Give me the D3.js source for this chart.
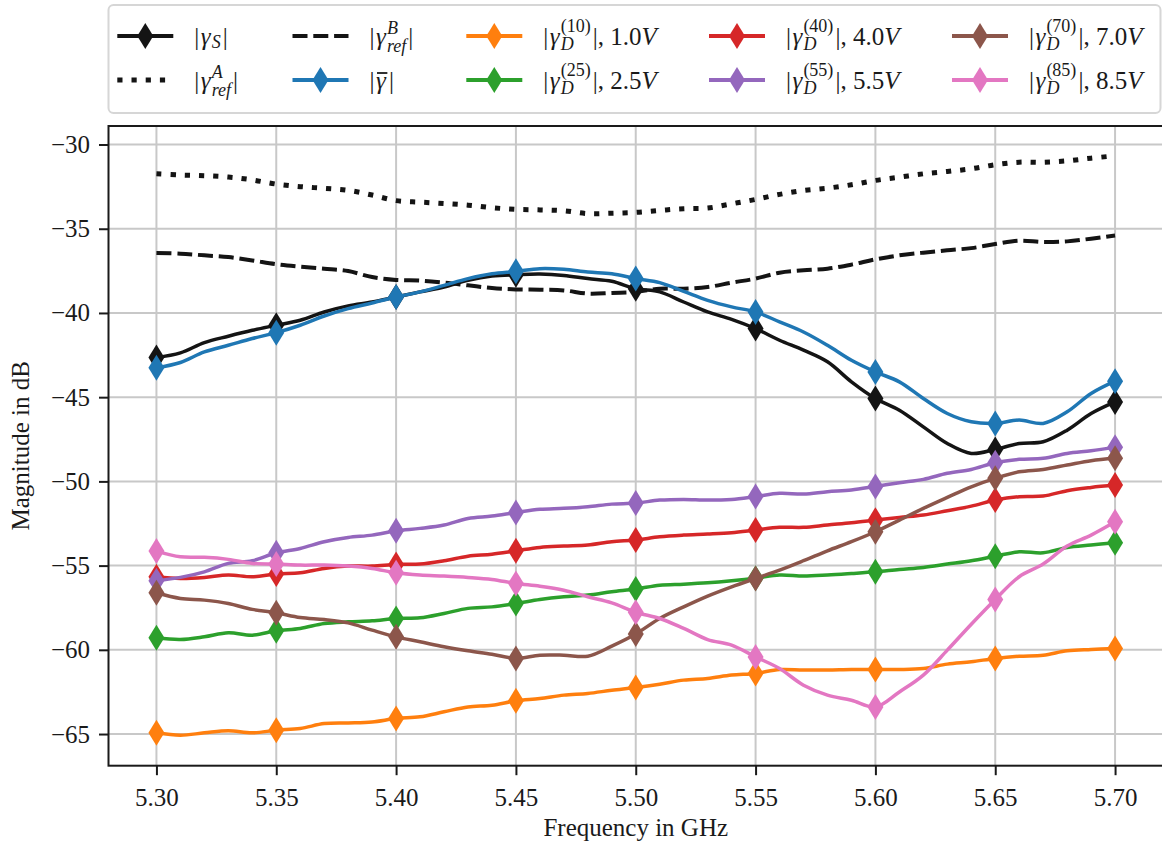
<!DOCTYPE html>
<html>
<head>
<meta charset="utf-8">
<script src="https://cdn.jsdelivr.net/npm/d3@7"></script>
<style>
  body { margin: 0; background: #fff; }
  svg { display: block; }
  text { font-family: "Liberation Serif", "Times New Roman", serif; fill: #1a1a1a; }
</style>
</head>
<body>
<svg id="chart" width="1162" height="843"></svg>
<script>
// Frequency sweep (GHz)
const freqGHz = [5.30,5.31,5.32,5.33,5.34,5.35,5.36,5.37,5.38,5.39,5.40,5.41,5.42,5.43,5.44,5.45,5.46,5.47,5.48,5.49,5.50,
                 5.51,5.52,5.53,5.54,5.55,5.56,5.57,5.58,5.59,5.60,5.61,5.62,5.63,5.64,5.65,5.66,5.67,5.68,5.69,5.70];

// Magnitudes in dB
const gammaS   = [-42.65,-42.37,-41.76,-41.38,-41.03,-40.73,-40.43,-39.94,-39.58,-39.35,-39.05,-38.75,-38.46,-38.06,-37.81,-37.73,-37.69,-37.77,-37.96,-38.12,-38.56,
                  -38.75,-39.35,-39.94,-40.38,-40.93,-41.62,-42.21,-42.9,-44.09,-45.08,-45.77,-46.76,-47.75,-48.34,-48.1,-47.75,-47.65,-46.96,-45.97,-45.28];
const gammaRefA = [-31.74,-31.81,-31.85,-31.93,-32.1,-32.35,-32.5,-32.6,-32.72,-33.0,-33.33,-33.42,-33.5,-33.6,-33.75,-33.85,-33.88,-33.93,-34.1,-34.08,-34.03,
                  -33.91,-33.81,-33.77,-33.52,-33.26,-32.96,-32.73,-32.59,-32.39,-32.13,-31.94,-31.74,-31.6,-31.44,-31.2,-31.05,-31.05,-30.97,-30.81,-30.67];
const gammaRefB = [-36.44,-36.48,-36.58,-36.68,-36.88,-37.1,-37.25,-37.37,-37.51,-37.87,-38.04,-38.08,-38.2,-38.36,-38.52,-38.6,-38.62,-38.66,-38.85,-38.81,-38.75,
                  -38.56,-38.56,-38.46,-38.2,-37.96,-37.61,-37.47,-37.37,-37.13,-36.82,-36.58,-36.42,-36.28,-36.15,-35.91,-35.71,-35.79,-35.75,-35.59,-35.4];
const gammaBar = [-43.26,-42.94,-42.31,-41.92,-41.52,-41.17,-40.73,-40.18,-39.74,-39.41,-39.05,-38.75,-38.36,-37.96,-37.67,-37.53,-37.37,-37.41,-37.57,-37.67,-37.96,
                  -38.2,-38.72,-39.25,-39.64,-39.94,-40.53,-41.13,-41.92,-42.81,-43.5,-44.09,-45.08,-45.97,-46.46,-46.56,-46.36,-46.56,-45.87,-44.78,-44.05];
const gammaD10 = [-64.93,-65.07,-64.93,-64.81,-64.93,-64.77,-64.67,-64.38,-64.34,-64.28,-64.08,-63.98,-63.68,-63.39,-63.29,-63.03,-62.89,-62.69,-62.59,-62.4,-62.24,
                  -62.04,-61.8,-61.7,-61.5,-61.4,-61.17,-61.2,-61.2,-61.17,-61.17,-61.17,-61.11,-60.85,-60.71,-60.51,-60.38,-60.32,-60.06,-59.98,-59.92];
const gammaD25 = [-59.29,-59.39,-59.23,-58.99,-59.13,-58.87,-58.73,-58.44,-58.34,-58.28,-58.14,-58.1,-57.84,-57.54,-57.45,-57.25,-57.01,-56.85,-56.75,-56.55,-56.39,
                  -56.16,-56.1,-56.02,-55.9,-55.75,-55.56,-55.62,-55.56,-55.47,-55.37,-55.23,-55.11,-54.91,-54.71,-54.44,-54.18,-54.24,-53.92,-53.78,-53.64];
const gammaD40 = [-55.66,-55.76,-55.7,-55.56,-55.66,-55.5,-55.43,-55.17,-55.03,-55.03,-54.93,-54.91,-54.71,-54.44,-54.32,-54.12,-53.92,-53.84,-53.78,-53.58,-53.48,
                  -53.29,-53.19,-53.13,-53.05,-52.89,-52.73,-52.73,-52.59,-52.46,-52.3,-52.14,-52.0,-51.74,-51.47,-51.11,-50.91,-50.87,-50.55,-50.36,-50.22];
const gammaD55 = [-55.9,-55.7,-55.37,-54.87,-54.71,-54.24,-53.98,-53.58,-53.33,-53.19,-52.93,-52.79,-52.59,-52.2,-52.06,-51.85,-51.66,-51.6,-51.5,-51.35,-51.29,
                  -51.11,-51.07,-51.11,-51.07,-50.9,-50.71,-50.75,-50.61,-50.51,-50.3,-50.08,-49.88,-49.52,-49.29,-48.89,-48.69,-48.63,-48.34,-48.18,-47.98];
const gammaD70 = [-56.61,-56.95,-57.05,-57.25,-57.6,-57.8,-58.08,-58.2,-58.4,-58.83,-59.23,-59.52,-59.82,-60.06,-60.26,-60.51,-60.32,-60.32,-60.38,-59.78,-59.06,
                  -58.14,-57.45,-56.81,-56.26,-55.76,-55.27,-54.71,-54.12,-53.58,-52.99,-52.3,-51.6,-50.95,-50.32,-49.82,-49.43,-49.29,-49.03,-48.77,-48.63];
const gammaD85 = [-54.14,-54.48,-54.51,-54.63,-54.87,-54.91,-54.97,-54.97,-55.03,-55.17,-55.43,-55.56,-55.62,-55.7,-55.82,-56.06,-56.22,-56.46,-56.85,-57.21,-57.77,
                  -58.14,-58.73,-59.39,-59.72,-60.42,-61.11,-62.1,-62.69,-62.99,-63.39,-62.5,-61.5,-60.02,-58.48,-57.01,-55.66,-54.91,-53.84,-53.19,-52.4];

// Drive states for the gamma_D curves
const stateIndex = ["(10)", "(25)", "(40)", "(55)", "(70)", "(85)"];
const stateVoltage = ["1.0", "2.5", "4.0", "5.5", "7.0", "8.5"];

// Axis ticks and titles
const xTicks = [5.30, 5.35, 5.40, 5.45, 5.50, 5.55, 5.60, 5.65, 5.70];
const xTickLabels = ["5.30", "5.35", "5.40", "5.45", "5.50", "5.55", "5.60", "5.65", "5.70"];
const yTicks = [-65, -60, -55, -50, -45, -40, -35, -30];
const yTickLabels = ["\u221265", "\u221260", "\u221255", "\u221250", "\u221245", "\u221240", "\u221235", "\u221230"];
const xTitle = "Frequency in GHz";
const yTitle = "Magnitude in dB";

// Series definitions (draw order = legend order, column-major)
const series = [
  { values: gammaS,    color: "#141414", dash: null,       width: 3.5, markers: true,  label: { sub: "S" } },
  { values: gammaRefA, color: "#141414", dash: "5.2,9",    width: 5,   markers: false, label: { sup: "A", supItalic: true, sub: "ref" } },
  { values: gammaRefB, color: "#141414", dash: "15,5.8",   width: 4,   markers: false, label: { sup: "B", supItalic: true, sub: "ref" } },
  { values: gammaBar,  color: "#1f77b4", dash: null,       width: 3.5, markers: true,  label: { bar: true } },
  { values: gammaD10,  color: "#ff7f0e", dash: null,       width: 3.5, markers: true,  label: { sup: stateIndex[0], sub: "D", volt: stateVoltage[0] } },
  { values: gammaD25,  color: "#2ca02c", dash: null,       width: 3.5, markers: true,  label: { sup: stateIndex[1], sub: "D", volt: stateVoltage[1] } },
  { values: gammaD40,  color: "#d62728", dash: null,       width: 3.5, markers: true,  label: { sup: stateIndex[2], sub: "D", volt: stateVoltage[2] } },
  { values: gammaD55,  color: "#9467bd", dash: null,       width: 3.5, markers: true,  label: { sup: stateIndex[3], sub: "D", volt: stateVoltage[3] } },
  { values: gammaD70,  color: "#8c564b", dash: null,       width: 3.5, markers: true,  label: { sup: stateIndex[4], sub: "D", volt: stateVoltage[4] } },
  { values: gammaD85,  color: "#e377c2", dash: null,       width: 3.5, markers: true,  label: { sup: stateIndex[5], sub: "D", volt: stateVoltage[5] } }
];

const svg = d3.select("#chart");
const plot = { left: 108.5, right: 1163, top: 126, bottom: 765.7 };

const x = d3.scaleLinear().domain([5.28, 5.72]).range([plot.left, plot.right]);
const y = d3.scaleLinear().domain([-66.88, -28.9]).range([plot.bottom, plot.top]);

svg.append("defs").append("clipPath").attr("id", "plotClip")
  .append("rect").attr("x", plot.left).attr("y", plot.top)
  .attr("width", plot.right - plot.left).attr("height", plot.bottom - plot.top);

// Grid
const grid = svg.append("g").attr("stroke", "#c8c8c8").attr("stroke-width", 2);
grid.selectAll(".gx").data(xTicks).join("line")
  .attr("x1", d => x(d)).attr("x2", d => x(d)).attr("y1", plot.top).attr("y2", plot.bottom);
grid.selectAll(".gy").data(yTicks).join("line")
  .attr("y1", d => y(d)).attr("y2", d => y(d)).attr("x1", plot.left).attr("x2", plot.right);

// Thin diamond marker
const diamond = (w, h) => `M0,${-h / 2}L${w / 2},0L0,${h / 2}L${-w / 2},0Z`;
const markerPath = diamond(16, 26);

// Lines and markers (a marker every 0.05 GHz)
const lines = svg.append("g").attr("clip-path", "url(#plotClip)");
const line = d3.line()
  .x((d, i) => x(freqGHz[i]))
  .y(d => y(d))
  .curve(d3.curveCatmullRom.alpha(0.5));
series.forEach(s => {
  const g = lines.append("g");
  g.append("path").datum(s.values)
    .attr("d", line)
    .attr("fill", "none")
    .attr("stroke", s.color)
    .attr("stroke-width", s.width)
    .attr("stroke-linejoin", "round")
    .attr("stroke-linecap", s.dash ? "butt" : "round")
    .attr("stroke-dasharray", s.dash);
  if (s.markers) {
    const pts = s.values.map((v, i) => [freqGHz[i], v]).filter((p, i) => i % 5 === 0);
    g.selectAll("path.m").data(pts).join("path")
      .attr("class", "m")
      .attr("d", markerPath)
      .attr("transform", p => `translate(${x(p[0])},${y(p[1])})`)
      .attr("fill", s.color);
  }
});

// Axes
const fontSize = 25;
const xAxis = d3.axisBottom(x).tickValues(xTicks).tickFormat((d, i) => xTickLabels[i]).tickSize(9.5).tickPadding(13);
const yAxis = d3.axisLeft(y).tickValues(yTicks).tickFormat((d, i) => yTickLabels[i]).tickSize(9.5).tickPadding(9);

const gx = svg.append("g").attr("transform", `translate(0,${plot.bottom})`).call(xAxis);
const gy = svg.append("g").attr("transform", `translate(${plot.left},0)`).call(yAxis);
[gx, gy].forEach(g => {
  g.select(".domain").remove();
  g.selectAll(".tick line").attr("stroke", "#1a1a1a").attr("stroke-width", 2);
  g.selectAll(".tick text").attr("font-size", fontSize).attr("fill", "#1a1a1a")
    .style("font-family", '"Liberation Serif", "Times New Roman", serif');
});

// Frame
svg.append("rect")
  .attr("x", plot.left).attr("y", plot.top)
  .attr("width", plot.right - plot.left).attr("height", plot.bottom - plot.top)
  .attr("fill", "none").attr("stroke", "#1a1a1a").attr("stroke-width", 2);

// Axis titles
svg.append("text").attr("x", (plot.left + plot.right) / 2).attr("y", 836)
  .attr("text-anchor", "middle").attr("font-size", fontSize).text(xTitle);
svg.append("text").attr("transform", `translate(29,${(plot.top + plot.bottom) / 2}) rotate(-90)`)
  .attr("text-anchor", "middle").attr("font-size", fontSize).text(yTitle);

// Legend
const legend = svg.append("g");
legend.append("rect")
  .attr("x", 108.5).attr("y", 5).attr("width", 1052).attr("height", 108)
  .attr("rx", 5).attr("fill", "#fff").attr("fill-opacity", 0.8)
  .attr("stroke", "#d6d6d6").attr("stroke-width", 2);

const colCenters = [145.3, 320.5, 494.3, 737, 980];
const rowY = [36, 80];
const handleHalf = 28;
const scriptSize = 18;

function textWidth(t) { return t.node().getComputedTextLength(); }

function drawLabel(g, x0, yb, lab) {
  let cx = x0;
  const t1 = g.append("text").attr("x", cx).attr("y", yb).attr("font-size", fontSize).text("|");
  cx += textWidth(t1) + 1.5;
  const tg = g.append("text").attr("x", cx).attr("y", yb).attr("font-size", fontSize)
    .attr("font-style", "italic").text("\u03b3");
  const gw = textWidth(tg);
  if (lab.bar) {
    g.append("line").attr("x1", cx + 1).attr("x2", cx + gw + 1.5)
      .attr("y1", yb - 16).attr("y2", yb - 16)
      .attr("stroke", "#1a1a1a").attr("stroke-width", 1.8);
  }
  cx += gw + 1;
  let sw = 0;
  const stacked = lab.sup && lab.sub;
  if (lab.sup) {
    const ts = g.append("text").attr("x", cx).attr("y", yb - (lab.supItalic ? 11 : 13)).attr("font-size", scriptSize)
      .attr("font-style", lab.supItalic ? "italic" : "normal").text(lab.sup);
    sw = Math.max(sw, textWidth(ts));
  }
  if (lab.sub) {
    const tb = g.append("text").attr("x", cx).attr("y", yb + (stacked ? (lab.supItalic ? 7 : 5) : 3)).attr("font-size", scriptSize)
      .attr("font-style", "italic").text(lab.sub);
    sw = Math.max(sw, textWidth(tb));
  }
  cx += sw + 2;
  const tEnd = g.append("text").attr("x", cx).attr("y", yb).attr("font-size", fontSize);
  tEnd.append("tspan").text(lab.volt ? `|, ${lab.volt}` : "|");
  if (lab.volt) tEnd.append("tspan").attr("font-style", "italic").text("V");
}

series.forEach((s, i) => {
  const col = Math.floor(i / 2), row = i % 2;
  const cx = colCenters[col], cy = rowY[row];
  const g = legend.append("g");
  g.append("line").attr("x1", cx - handleHalf).attr("x2", cx + handleHalf)
    .attr("y1", cy).attr("y2", cy)
    .attr("stroke", s.color).attr("stroke-width", s.dash ? s.width : 4)
    .attr("stroke-dasharray", s.dash);
  if (s.markers) {
    g.append("path").attr("d", markerPath).attr("transform", `translate(${cx},${cy})`).attr("fill", s.color);
  }
  drawLabel(g, cx + handleHalf + 21, cy + 9, s.label);
});
</script>
</body>
</html>
